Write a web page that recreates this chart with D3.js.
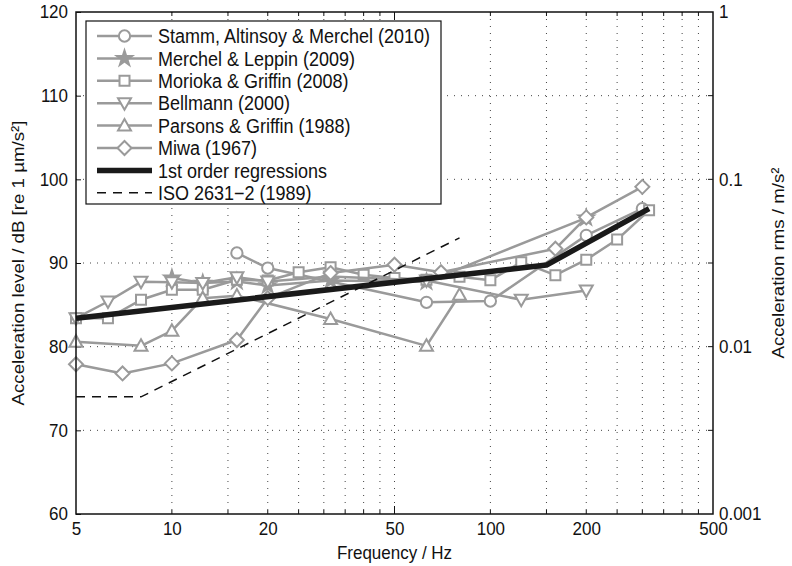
<!DOCTYPE html>
<html><head><meta charset="utf-8">
<script src="https://cdn.jsdelivr.net/npm/d3@7"></script>
<style>
body{margin:0;background:#fff}
svg{display:block}
text{font-family:"Liberation Sans",Arial,Helvetica,sans-serif;fill:#111}
</style>
</head><body>
<svg id="chart" width="792" height="566"></svg>
<script>
// Axis ticks
const xTickLabels = [5, 10, 20, 50, 100, 200, 500];
const xGridTicks = [10, 15, 20, 25, 30, 35, 40, 45, 50, 100, 150, 200, 250, 300, 350, 400, 450];
const yTicks = [60, 70, 80, 90, 100, 110, 120];
const yRightTicks = [0.001, 0.01, 0.1, 1];
const yRightLabels = ["0.001", "0.01", "0.1", "1"];

// Threshold data, frequency (Hz) and level (dB re 1 µm/s²)
const stammF = [16, 20, 63, 100, 200, 300];
const stammDb = [91.2, 89.4, 85.3, 85.45, 93.3, 96.5];
const merchelF = [10, 12.5, 16, 20, 31.5, 63, 200];
const merchelDb = [88.2, 87.6, 87.8, 87.3, 87.9, 87.75, 95.4];
const moriokaF = [5, 6.3, 8, 10, 12.5, 16, 20, 25, 31.5, 40, 50, 63, 80, 100, 125, 160, 200, 250, 315];
const moriokaDb = [83.4, 83.4, 85.6, 86.8, 86.8, 88.0, 87.9, 88.9, 89.5, 88.6, 88.2, 88.0, 88.35, 87.95, 90.1, 88.55, 90.4, 92.8, 96.3];
const bellmannF = [5, 6.3, 8, 10, 12.5, 16, 20, 31.5, 63, 125, 200];
const bellmannDb = [83.4, 85.4, 87.75, 87.7, 87.6, 88.3, 87.8, 88.4, 87.9, 85.6, 86.7];
const parsonsF = [5, 8, 10, 12.5, 16, 31.5, 63, 80];
const parsonsDb = [80.6, 80.1, 81.9, 85.8, 86.1, 83.3, 80.1, 86.2];
const miwaF = [5, 7, 10, 16, 20, 31.5, 50, 70, 160, 200, 300];
const miwaDb = [77.9, 76.8, 78.0, 80.8, 85.8, 88.8, 89.8, 88.9, 91.7, 95.45, 99.1];
const regF = [5, 150, 315];
const regDb = [83.4, 89.75, 96.5];
const isoF = [5, 8, 80];
const isoDb = [74, 74, 93];

const legendLabels = [
  "Stamm, Altinsoy & Merchel (2010)",
  "Merchel & Leppin (2009)",
  "Morioka & Griffin (2008)",
  "Bellmann (2000)",
  "Parsons & Griffin (1988)",
  "Miwa (1967)",
  "1st order regressions",
  "ISO 2631\u22122 (1989)"
];

const svg = d3.select("#chart");
const L = 76, R = 713, T = 12, B = 514;
const x = d3.scaleLog().domain([5, 500]).range([L, R]);
const y = d3.scaleLinear().domain([60, 120]).range([B, T]);
const yR = d3.scaleLog().domain([0.001, 1]).range([B, T]);

const GRAY = "#9a9a9a";
const STRETCH = 1.1;   // glyphs are drawn slightly taller than wide

// dotted grid
const grid = svg.append("g");
grid.selectAll("line.v").data(xGridTicks).join("line")
  .attr("x1", d => x(d)).attr("x2", d => x(d)).attr("y1", T).attr("y2", B)
  .attr("stroke", "#444").attr("stroke-width", 1).attr("stroke-dasharray", "1,6");
grid.selectAll("line.h").data(yTicks.slice(1, -1)).join("line")
  .attr("x1", L).attr("x2", R).attr("y1", d => y(d)).attr("y2", d => y(d))
  .attr("stroke", "#444").attr("stroke-width", 1).attr("stroke-dasharray", "1,6");

// axes (ticks inward, labels outside)
const axisLeft = d3.axisLeft(y).tickValues(yTicks).tickSize(-5).tickPadding(8).tickFormat(d3.format("d"));
const axisRight = d3.axisRight(yR).tickValues(yRightTicks).tickSize(0).tickPadding(6)
  .tickFormat((d, i) => yRightLabels[i]);
const axisBottom = d3.axisBottom(x).tickValues(xTickLabels).tickSize(0).tickPadding(7)
  .tickFormat(d => String(d));

function styleAxis(g) {
  g.select(".domain").remove();
  g.selectAll("text").attr("font-size", 17).attr("fill", "#111")
    .attr("transform", `scale(1,${STRETCH})`);
  g.selectAll(".tick line").attr("stroke", "#111").attr("stroke-width", 1);
}
svg.append("g").attr("transform", `translate(${L},0)`).call(axisLeft).call(styleAxis);
svg.append("g").attr("transform", `translate(${R},0)`).call(axisRight).call(styleAxis);
svg.append("g").attr("transform", `translate(0,${B})`).call(axisBottom).call(styleAxis);

// tick marks on all four sides
const tk = svg.append("g").attr("stroke", "#111").attr("stroke-width", 1);
xGridTicks.forEach(d => {
  const len = d === 50 ? 8 : 4;
  tk.append("line").attr("x1", x(d)).attr("x2", x(d)).attr("y1", B).attr("y2", B - len);
  tk.append("line").attr("x1", x(d)).attr("x2", x(d)).attr("y1", T).attr("y2", T + len);
});
yTicks.slice(1, -1).forEach(d => {
  tk.append("line").attr("x1", R).attr("x2", R - 5).attr("y1", y(d)).attr("y2", y(d));
});

// series
const line = d3.line().x(d => x(d[0])).y(d => y(d[1]));
const zip = (f, v) => f.map((d, i) => [d, v[i]]);

function marker(g, type, cx, cy) {
  const s = g.append("path").attr("transform", `translate(${cx},${cy})`)
    .attr("fill", "#fff").attr("stroke", GRAY).attr("stroke-width", 2);
  if (type === "circle") s.attr("d", d3.symbol(d3.symbolCircle, 100)());
  else if (type === "star") s.attr("d", d3.symbol(d3.symbolStar, 70)()).attr("fill", GRAY);
  else if (type === "square") s.attr("d", "M-5,-5H5V5H-5Z");
  else if (type === "down") s.attr("d", "M-6.5,-5L6.5,-5L0,6.5Z");
  else if (type === "up") s.attr("d", "M-6.5,5L6.5,5L0,-6.5Z");
  else if (type === "diamond") s.attr("d", "M0,-7L7,0L0,7L-7,0Z");
}

const series = [
  {f: stammF, v: stammDb, m: "circle"},
  {f: merchelF, v: merchelDb, m: "star"},
  {f: moriokaF, v: moriokaDb, m: "square"},
  {f: bellmannF, v: bellmannDb, m: "down"},
  {f: parsonsF, v: parsonsDb, m: "up"},
  {f: miwaF, v: miwaDb, m: "diamond"}
];
const plot = svg.append("g");
series.forEach(s => {
  const g = plot.append("g");
  const pts = zip(s.f, s.v);
  g.append("path").attr("d", line(pts)).attr("fill", "none")
    .attr("stroke", GRAY).attr("stroke-width", 2.5).attr("stroke-linejoin", "round");
  pts.forEach(p => marker(g, s.m, x(p[0]), y(p[1])));
});
plot.append("path").attr("d", line(zip(regF, regDb))).attr("fill", "none")
  .attr("stroke", "#1a1a1a").attr("stroke-width", 5.5).attr("stroke-linejoin", "round");
plot.append("path").attr("d", line(zip(isoF, isoDb))).attr("fill", "none")
  .attr("stroke", "#111").attr("stroke-width", 1.5).attr("stroke-dasharray", "9,7");

// frame
svg.append("rect").attr("x", L).attr("y", T).attr("width", R - L).attr("height", B - T)
  .attr("fill", "none").attr("stroke", "#111").attr("stroke-width", 1.5);

// legend
const lg = svg.append("g");
lg.append("rect").attr("x", 86).attr("y", 21).attr("width", 355).attr("height", 183)
  .attr("fill", "#fff").attr("stroke", "#111").attr("stroke-width", 1.2);
const kinds = ["circle", "star", "square", "down", "up", "diamond", "reg", "iso"];
legendLabels.forEach((lab, i) => {
  const ly = 36 + i * 22.4;
  if (kinds[i] === "reg") {
    lg.append("line").attr("x1", 97).attr("x2", 152).attr("y1", ly).attr("y2", ly)
      .attr("stroke", "#1a1a1a").attr("stroke-width", 5.5);
  } else if (kinds[i] === "iso") {
    lg.append("line").attr("x1", 97).attr("x2", 152).attr("y1", ly).attr("y2", ly)
      .attr("stroke", "#111").attr("stroke-width", 1.5).attr("stroke-dasharray", "9,7");
  } else {
    lg.append("line").attr("x1", 97).attr("x2", 152).attr("y1", ly).attr("y2", ly)
      .attr("stroke", GRAY).attr("stroke-width", 2.5);
    marker(lg, kinds[i], 124.5, ly);
  }
  lg.append("text").attr("transform", `translate(158,${ly}) scale(1,${STRETCH})`)
    .attr("dy", "0.36em").attr("font-size", 18).text(lab);
});

// axis titles
svg.append("text").attr("transform", `translate(${(L + R) / 2},559) scale(1,${STRETCH})`)
  .attr("text-anchor", "middle").attr("font-size", 17).text("Frequency / Hz");
svg.append("text").attr("transform", `translate(24,${(T + B) / 2}) rotate(-90) scale(${STRETCH},1)`)
  .attr("text-anchor", "middle").attr("font-size", 17)
  .text("Acceleration level / dB [re 1 \u00b5m/s\u00b2]");
svg.append("text").attr("transform", `translate(784,${(T + B) / 2}) rotate(-90) scale(${STRETCH},1)`)
  .attr("text-anchor", "middle").attr("font-size", 17)
  .text("Acceleration rms / m/s\u00b2");
</script>
</body></html>
